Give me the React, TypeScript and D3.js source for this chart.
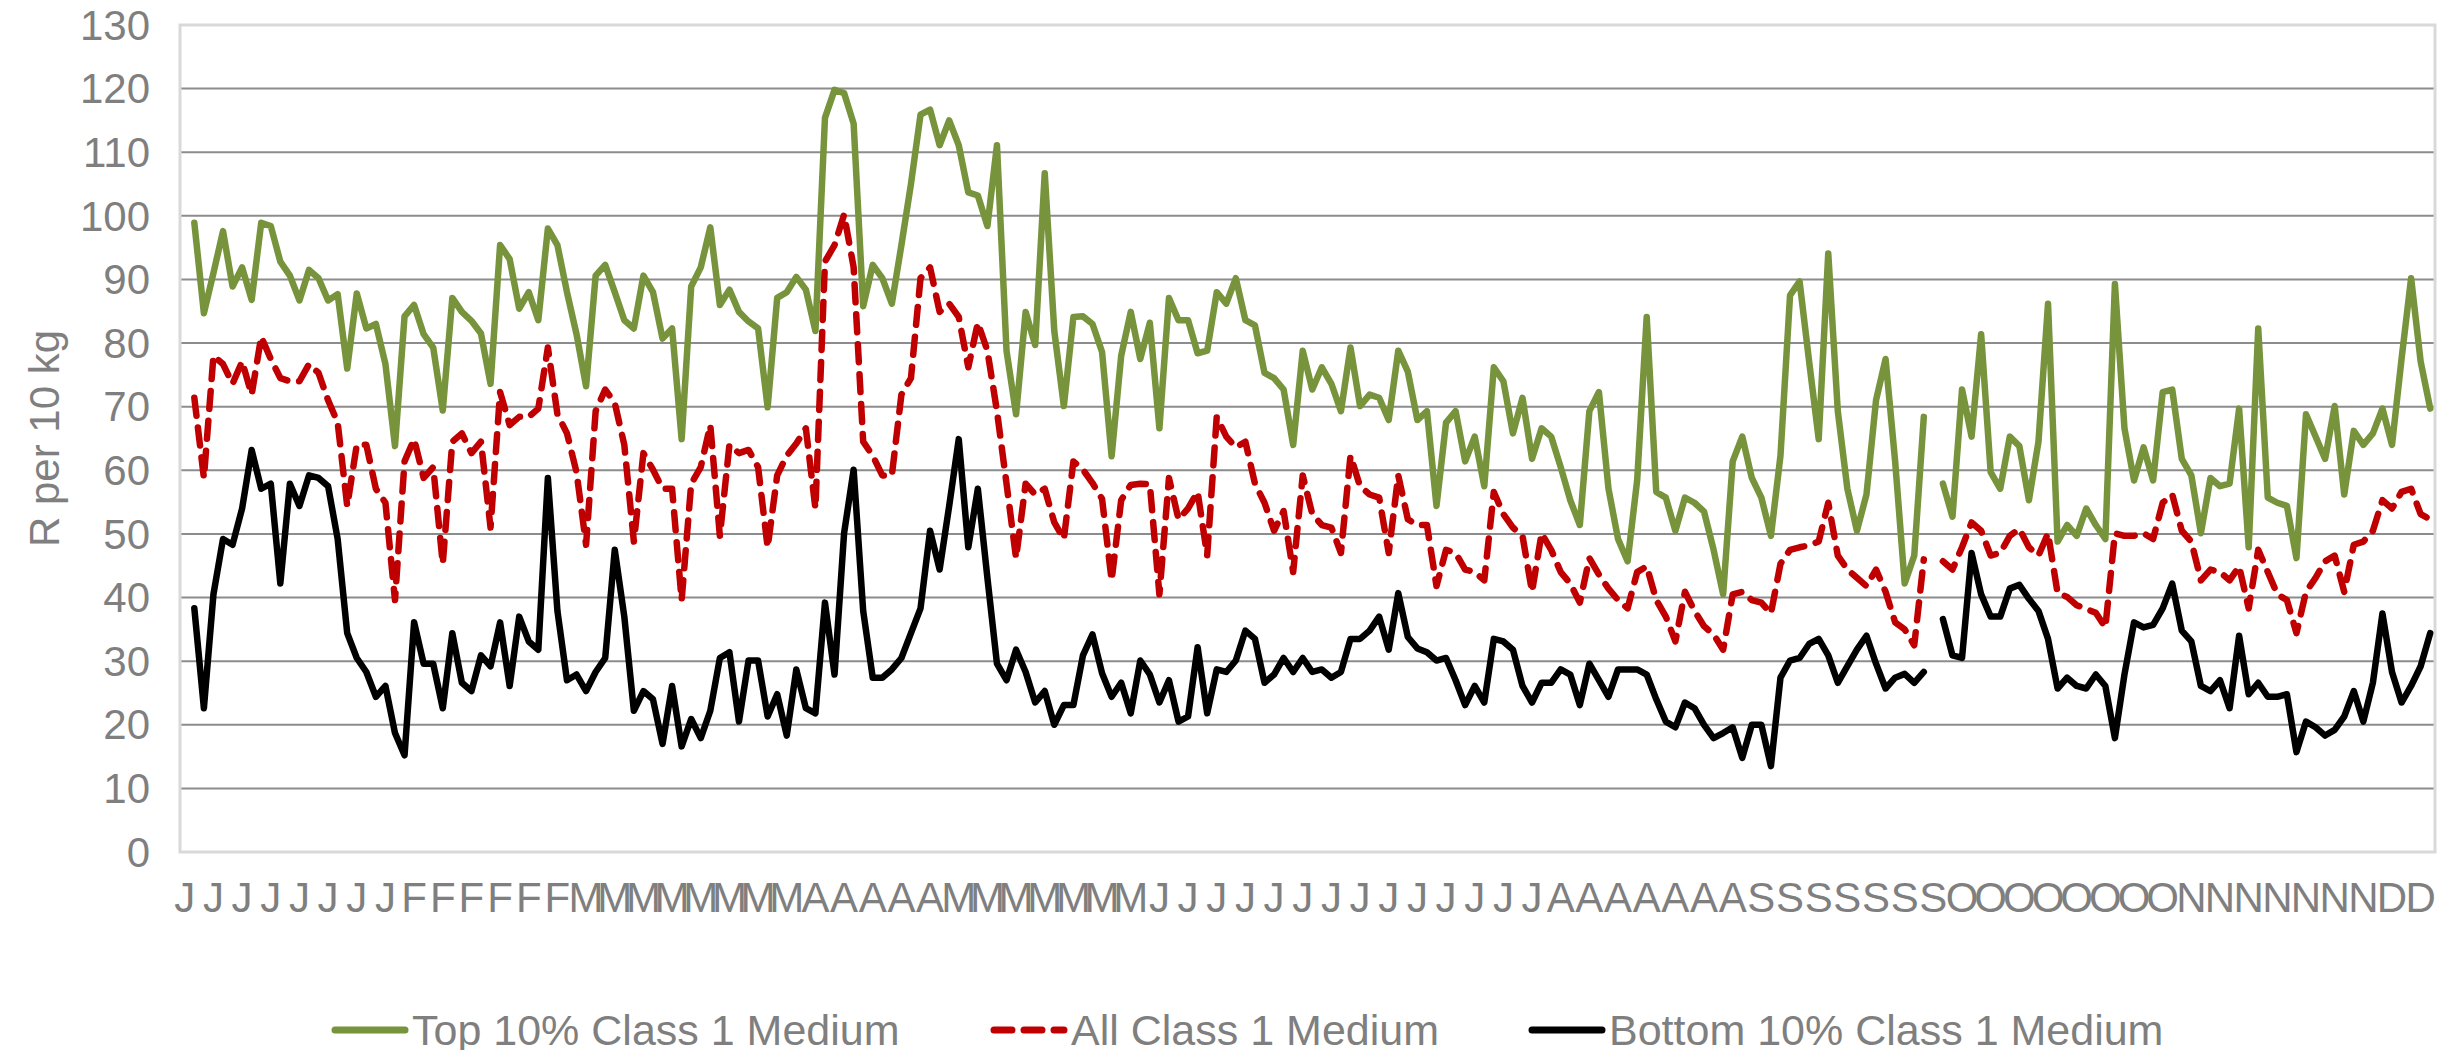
import React from "react";
import * as d3 from "d3";

// R per 10 kg, one value per trading day; first category is empty, one gap in September
const top10: (number | null)[] = [
  null,
  98.9, 84.7, 91.0, 97.6, 88.9, 91.9, 86.8, 98.9, 98.4, 92.8,
  90.6, 86.7, 91.5, 90.2, 86.7, 87.7, 76.0, 87.8, 82.3, 83.0,
  76.7, 63.8, 84.2, 86.0, 81.4, 79.3, 69.4, 87.1, 84.9, 83.5,
  81.5, 73.6, 95.4, 93.2, 85.4, 88.0, 83.6, 98.0, 95.4, 88.0,
  81.4, 73.2, 90.6, 92.3, 88.0, 83.6, 82.3, 90.6, 88.0, 80.7,
  82.3, 64.9, 88.9, 91.9, 98.2, 86.0, 88.4, 84.9, 83.4, 82.3,
  69.9, 87.1, 88.0, 90.4, 88.4, 81.9, 115.4, 119.8, 119.3, 114.5,
  85.8, 92.3, 90.2, 86.2, 95.4, 105.0, 115.9, 116.7, 111.1, 115.0,
  111.1, 103.7, 103.2, 98.4, 111.1, 78.8, 68.8, 84.9, 79.7, 106.7,
  81.9, 70.1, 84.1, 84.2, 83.0, 78.6, 62.2, 78.0, 84.9, 77.5,
  83.2, 66.6, 87.1, 83.6, 83.6, 78.4, 78.8, 88.0, 86.2, 90.2,
  83.6, 82.8, 75.3, 74.5, 72.7, 64.0, 78.8, 72.7, 76.2, 73.6,
  69.3, 79.3, 70.1, 71.9, 71.4, 67.9, 78.8, 75.5, 67.9, 69.3,
  54.4, 67.5, 69.3, 61.4, 65.3, 57.5, 76.2, 74.0, 65.8, 71.4,
  61.8, 66.6, 65.3, 60.5, 55.3, 51.4, 69.3, 72.3, 57.1, 49.2,
  45.7, 58.4, 84.1, 56.6, 55.7, 50.5, 55.7, 54.9, 53.5, 47.5,
  40.5, 61.4, 65.3, 58.8, 55.7, 49.7, 62.3, 87.5, 89.7, 77.1,
  64.9, 94.1, 69.3, 57.1, 50.5, 56.2, 71.0, 77.5, 61.4, 42.2,
  46.6, 68.4, null, 57.9, 52.7, 72.7, 65.3, 81.4, 59.7, 57.1,
  65.3, 63.8, 55.3, 64.5, 86.2, 48.8, 51.4, 49.7, 54.0, 51.4,
  49.2, 89.3, 66.6, 58.4, 63.6, 58.4, 72.3, 72.7, 61.8, 59.2,
  50.1, 58.8, 57.5, 57.9, 69.7, 47.9, 82.3, 55.7, 54.9, 54.4,
  46.2, 68.8, 65.3, 61.8, 70.1, 56.2, 66.2, 64.0, 65.8, 69.7,
  64.0, 77.5, 90.2, 77.1, 69.7,
];

const allClass1: (number | null)[] = [
  null,
  71.4, 58.8, 78.0, 76.7, 73.6, 77.1, 71.9, 81.0, 77.5, 74.5,
  74.0, 74.0, 76.7, 75.3, 71.0, 67.5, 54.4, 64.0, 64.0, 57.1,
  54.9, 39.6, 61.4, 64.9, 58.8, 60.5, 45.3, 64.5, 65.8, 62.7,
  64.5, 51.0, 72.3, 67.1, 68.4, 68.4, 69.7, 79.3, 68.8, 65.8,
  59.7, 48.3, 69.3, 72.7, 70.6, 64.0, 48.8, 62.7, 60.1, 57.1,
  57.1, 39.6, 57.9, 60.5, 67.1, 49.7, 64.0, 62.7, 63.2, 60.5,
  47.9, 59.2, 62.3, 64.2, 66.6, 54.0, 92.8, 95.4, 100.2, 91.9,
  64.5, 62.3, 59.2, 59.2, 71.9, 74.5, 90.2, 91.9, 84.9, 86.2,
  84.1, 76.2, 83.2, 78.8, 69.3, 57.9, 46.2, 57.9, 56.2, 57.1,
  51.8, 49.2, 61.4, 60.1, 58.0, 55.5, 42.7, 55.3, 57.7, 57.9,
  57.8, 40.5, 58.8, 52.3, 54.0, 56.6, 46.6, 68.4, 65.3, 63.6,
  64.5, 57.9, 54.9, 50.5, 53.6, 44.0, 59.2, 53.1, 51.4, 51.0,
  47.0, 62.3, 57.5, 56.2, 55.7, 47.0, 59.2, 52.3, 51.4, 51.4,
  41.8, 47.5, 47.0, 44.4, 44.0, 42.7, 56.6, 53.1, 51.0, 49.7,
  40.9, 50.1, 47.5, 44.0, 42.2, 39.2, 46.2, 43.6, 41.4, 39.6,
  38.3, 44.0, 44.9, 39.6, 37.0, 33.1, 40.9, 37.9, 35.5, 34.2,
  31.8, 40.5, 40.9, 39.6, 39.2, 37.5, 45.3, 47.5, 47.9, 48.2,
  48.8, 54.9, 46.6, 44.4, 43.1, 41.8, 44.4, 40.9, 36.1, 35.0,
  32.5, 46.0, null, 45.7, 44.4, 47.9, 51.8, 50.5, 46.6, 47.0,
  49.7, 50.8, 47.9, 46.6, 50.1, 40.7, 40.1, 38.8, 38.2, 37.6,
  35.3, 50.1, 49.7, 49.7, 50.1, 49.2, 54.9, 56.2, 50.5, 48.8,
  42.7, 44.4, 44.0, 42.7, 44.9, 38.3, 47.5, 44.0, 40.5, 39.6,
  34.4, 40.9, 43.1, 45.7, 46.6, 40.9, 48.3, 48.8, 50.5, 55.3,
  54.0, 56.6, 57.1, 53.1, 52.3,
];

const bottom10: (number | null)[] = [
  null,
  38.3, 22.6, 40.5, 49.2, 48.3, 54.0, 63.2, 57.1, 57.9, 42.2,
  57.9, 54.4, 59.2, 58.8, 57.5, 49.2, 34.4, 30.5, 28.3, 24.4,
  26.1, 18.7, 15.2, 36.1, 29.6, 29.6, 22.6, 34.4, 26.6, 25.3,
  30.9, 29.2, 36.1, 26.1, 37.0, 33.1, 31.8, 58.8, 37.9, 27.0,
  27.9, 25.3, 28.3, 30.5, 47.5, 37.0, 22.2, 25.3, 24.0, 17.0,
  26.1, 16.6, 20.9, 17.9, 22.2, 30.5, 31.4, 20.5, 30.1, 30.1,
  21.3, 24.8, 18.3, 28.7, 22.6, 21.8, 39.2, 27.9, 50.1, 60.1,
  37.9, 27.4, 27.4, 28.7, 30.5, 34.4, 38.3, 50.5, 44.4, 54.4,
  64.9, 47.9, 57.1, 43.1, 29.6, 27.0, 31.8, 28.3, 23.5, 25.3,
  20.0, 23.1, 23.1, 30.9, 34.2, 28.1, 24.4, 26.6, 21.8, 30.1,
  27.9, 23.5, 27.0, 20.5, 21.3, 32.2, 21.8, 28.7, 28.3, 30.1,
  34.8, 33.5, 26.6, 27.9, 30.5, 28.3, 30.5, 28.3, 28.7, 27.4,
  28.3, 33.5, 33.5, 34.8, 37.0, 31.8, 40.7, 33.8, 32.0, 31.4,
  30.1, 30.5, 27.0, 23.1, 26.1, 23.5, 33.5, 33.1, 31.8, 26.1,
  23.5, 26.6, 26.6, 28.7, 27.9, 23.1, 29.6, 27.0, 24.4, 28.7,
  28.7, 28.7, 27.9, 24.0, 20.5, 19.6, 23.5, 22.6, 20.0, 17.9,
  18.7, 19.6, 14.8, 20.0, 20.0, 13.5, 27.4, 30.1, 30.5, 32.7,
  33.5, 30.9, 26.6, 29.2, 31.8, 34.0, 29.6, 25.7, 27.4, 28.0,
  26.6, 28.3, null, 36.6, 30.9, 30.5, 47.0, 40.5, 37.0, 37.0,
  41.4, 42.0, 39.8, 37.9, 33.5, 25.7, 27.4, 26.1, 25.7, 27.9,
  26.1, 17.9, 27.9, 36.1, 35.3, 35.7, 38.3, 42.2, 34.8, 33.1,
  26.1, 25.3, 27.0, 22.6, 34.0, 24.8, 26.6, 24.4, 24.4, 24.8,
  15.7, 20.5, 19.6, 18.3, 19.2, 21.3, 25.3, 20.5, 26.6, 37.5,
  28.3, 23.5, 26.1, 29.2, 34.4,
];

// one month initial every third category
const monthTicks = "JJJJJJJJFFFFFFMMMMMMMMAAAAAMMMMMMMJJJJJJJJJJJJJJAAAAAAASSSSSSSOOOOOOOONNNNNNNDD".split("");
const yTicks = [0, 10, 20, 30, 40, 50, 60, 70, 80, 90, 100, 110, 120, 130];

const series = [
  { name: "Top 10% Class 1 Medium", values: top10, color: "#77933C", dash: null },
  { name: "All Class 1 Medium", values: allClass1, color: "#C00000", dash: "18 12" },
  { name: "Bottom 10% Class 1 Medium", values: bottom10, color: "#000000", dash: null },
];

const font = "'Liberation Sans', Arial, sans-serif";
const textColor = "#7F7F7F";

export default function App() {
  const width = 2463;
  const height = 1050;
  const left = 180, right = 2435, top = 25, bottom = 852;

  const x = d3.scaleBand<number>().domain(d3.range(top10.length)).range([left, right]);
  const cx = (i: number) => (x(i) as number) + x.bandwidth() / 2;
  const y = d3.scaleLinear().domain([0, 130]).range([bottom, top]);

  const line = d3
    .line<number | null>()
    .defined((d) => d != null)
    .x((_, i) => cx(i))
    .y((d) => y(d as number));

  // legend sample positions
  const legendX = [335, 994, 1532];

  return (
    <div style={{ position: "absolute", left: 0, top: 0 }}>
      <svg width={width} height={height} style={{ display: "block", background: "#fff" }}>
        {/* gridlines */}
        {yTicks.filter((t) => t > 0 && t < 130).map((t) => (
          <line key={t} x1={left} x2={right} y1={y(t)} y2={y(t)} stroke="#8C8C8C" strokeWidth={2} />
        ))}
        <rect x={left} y={top} width={right - left} height={bottom - top} fill="none" stroke="#D9D9D9" strokeWidth={3} />

        {/* y ticks */}
        {yTicks.map((t) => (
          <text key={t} x={150} y={y(t)} dy="0.35em" textAnchor="end" fontFamily={font} fontSize={42} fill={textColor}>
            {t}
          </text>
        ))}
        <text
          transform={`translate(44,${(top + bottom) / 2}) rotate(-90)`}
          textAnchor="middle"
          dominantBaseline="central"
          fontFamily={font}
          fontSize={42}
          fill={textColor}
        >
          R per 10 kg
        </text>

        {/* x ticks */}
        {monthTicks.map((m, k) => (
          <text key={k} x={cx(k * 3)} y={912} textAnchor="middle" fontFamily={font} fontSize={42} fill={textColor}>
            {m}
          </text>
        ))}

        {/* series */}
        {series.map((s) => (
          <path
            key={s.name}
            d={line(s.values) || ""}
            fill="none"
            stroke={s.color}
            strokeWidth={6.5}
            strokeLinejoin="round"
            strokeLinecap="round"
            strokeDasharray={s.dash || undefined}
          />
        ))}

        {/* legend */}
        {series.map((s, k) => (
          <g key={s.name}>
            <line
              x1={legendX[k]}
              x2={legendX[k] + 70}
              y1={1030}
              y2={1030}
              stroke={s.color}
              strokeWidth={7}
              strokeLinecap="round"
              strokeDasharray={s.dash || undefined}
            />
            <text x={legendX[k] + 77} y={1045} fontFamily={font} fontSize={43} fill={textColor}>
              {s.name}
            </text>
          </g>
        ))}
      </svg>
    </div>
  );
}
